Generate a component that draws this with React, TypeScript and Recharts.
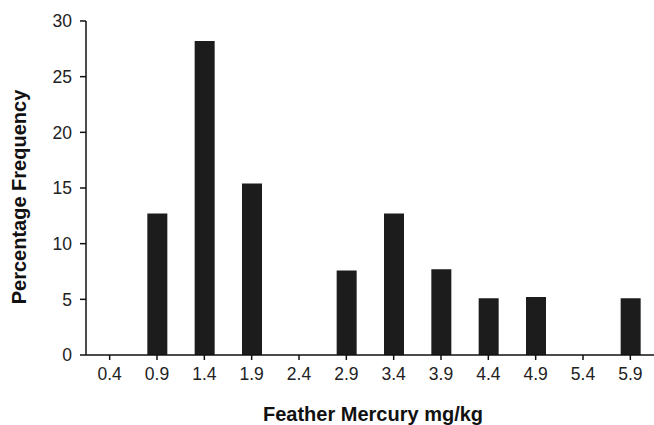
import React from "react";
import { BarChart, Bar, XAxis, YAxis } from "recharts";

const mercuryLevels = ["0.4", "0.9", "1.4", "1.9", "2.4", "2.9", "3.4", "3.9", "4.4", "4.9", "5.4", "5.9"];
const percentFreq = [0, 12.7, 28.2, 15.4, 0, 7.6, 12.7, 7.7, 5.1, 5.2, 0, 5.1];
const yTicks = [0, 5, 10, 15, 20, 25, 30];

const data = mercuryLevels.map((m, i) => ({ level: m, pct: percentFreq[i] }));

const font = "'Liberation Sans', Arial, Helvetica, sans-serif";
const axisColor = "#111";

// rotated y title, centred a bit below the plot middle like the original
const YTitle = (props: any) => {
    const vb = props.viewBox || {};
    const cx = 19;
    const cy = (vb.y ?? 21) + (vb.height ?? 334) / 2 + 9;
    return (
        <text
            x={cx}
            y={cy}
            transform={`rotate(-90, ${cx}, ${cy})`}
            textAnchor="middle"
            dominantBaseline="central"
            style={{ fontSize: 20, fontWeight: 700, fill: "#111", fontFamily: font }}
        >
            Percentage Frequency
        </text>
    );
};

export default function App() {
    return (
        <div style={{ position: "absolute", left: 0, top: 0, background: "#fff", fontFamily: font }}>
            <BarChart
                width={654}
                height={425}
                data={data}
                margin={{ top: 21, right: 0, left: 0, bottom: 0 }}
                barSize={20}
            >
                <XAxis
                    dataKey="level"
                    height={70}
                    stroke={axisColor}
                    strokeWidth={1.5}
                    tickSize={5}
                    tickMargin={8}
                    tick={{ fontSize: 17.5, fill: "#222", fontFamily: font }}
                    tickLine={{ stroke: axisColor, strokeWidth: 1.5 }}
                    interval={0}
                    label={{
                        value: "Feather Mercury mg/kg",
                        position: "insideBottom",
                        offset: 4,
                        dx: 3,
                        style: { fontSize: 20, fontWeight: 700, fill: "#111", fontFamily: font },
                    }}
                />
                <YAxis
                    width={86}
                    domain={[0, 30]}
                    ticks={yTicks}
                    stroke={axisColor}
                    strokeWidth={1.5}
                    tickSize={6}
                    tickMargin={8}
                    tick={{ fontSize: 17.5, fill: "#222", fontFamily: font }}
                    tickLine={{ stroke: axisColor, strokeWidth: 1.5 }}
                    label={<YTitle />}
                />
                <Bar dataKey="pct" fill="#1c1c1c" isAnimationActive={false} />
            </BarChart>
        </div>
    );
}
